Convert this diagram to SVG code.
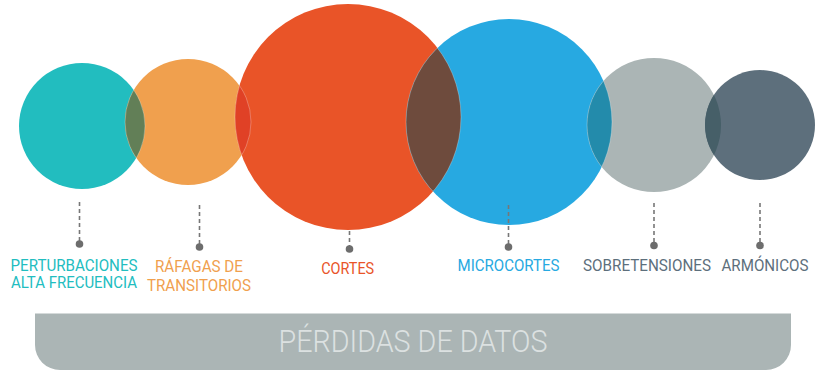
<svg xmlns="http://www.w3.org/2000/svg" width="821" height="371" viewBox="0 0 821 371">
<style>
.lbl{font-family:Roboto,"Liberation Sans",sans-serif;font-size:17px;text-anchor:middle}
.dash{stroke:#777;stroke-width:1.6;stroke-dasharray:4 3;fill:none}
.dot{fill:#6d6d6d}
.edge{fill:none;stroke:#ffffff;stroke-opacity:0.35;stroke-width:0.8}
</style>
<defs>
<clipPath id="cA"><circle cx="82" cy="126" r="63"/></clipPath>
<clipPath id="cB"><circle cx="188" cy="122" r="63"/></clipPath>
<clipPath id="cC"><circle cx="348" cy="117" r="113"/></clipPath>
<clipPath id="cD"><circle cx="509" cy="122" r="103"/></clipPath>
<clipPath id="cE"><circle cx="654" cy="125" r="67"/></clipPath>
</defs>
<g id="node-perturbaciones">
<circle cx="82" cy="126" r="63" fill="#22BDBF"/>
</g>
<g id="node-rafagas">
<circle cx="188" cy="122" r="63" fill="#F0A04E"/>
</g>
<g id="node-cortes">
<circle cx="348" cy="117" r="113" fill="#E95428"/>
</g>
<g id="node-microcortes">
<circle cx="509" cy="122" r="103" fill="#27A9E1"/>
</g>
<g id="node-sobretensiones">
<circle cx="654" cy="125" r="67" fill="#ABB5B5"/>
</g>
<g id="node-armonicos">
<circle cx="760" cy="125" r="55" fill="#5D6F7C"/>
</g>
<g id="overlaps">
<circle cx="188" cy="122" r="63" fill="#627F57" clip-path="url(#cA)"/>
<circle cx="348" cy="117" r="113" fill="#E04126" clip-path="url(#cB)"/>
<circle cx="509" cy="122" r="103" fill="#6E4B3D" clip-path="url(#cC)"/>
<circle cx="654" cy="125" r="67" fill="#238BAB" clip-path="url(#cD)"/>
<circle cx="760" cy="125" r="55" fill="#465F68" clip-path="url(#cE)"/>
<circle class="edge" cx="82" cy="126" r="63" clip-path="url(#cB)"/>
<circle class="edge" cx="188" cy="122" r="63" clip-path="url(#cA)"/>
<circle class="edge" cx="188" cy="122" r="63" clip-path="url(#cC)"/>
<circle class="edge" cx="348" cy="117" r="113" clip-path="url(#cB)"/>
<circle class="edge" cx="348" cy="117" r="113" clip-path="url(#cD)"/>
<circle class="edge" cx="509" cy="122" r="103" clip-path="url(#cC)"/>
<circle class="edge" cx="509" cy="122" r="103" clip-path="url(#cE)"/>
<circle class="edge" cx="654" cy="125" r="67" clip-path="url(#cD)"/>
</g>
<g id="connectors">
<line class="dash" x1="79.5" y1="202" x2="79.5" y2="242"/>
<circle class="dot" cx="79.5" cy="244" r="3.8"/>
<line class="dash" x1="199.5" y1="205" x2="199.5" y2="245"/>
<circle class="dot" cx="199.5" cy="247" r="3.8"/>
<line class="dash" x1="349.5" y1="231" x2="349.5" y2="247"/>
<circle class="dot" cx="349.5" cy="249" r="3.8"/>
<line class="dash" x1="508.5" y1="205" x2="508.5" y2="245"/>
<circle class="dot" cx="508.5" cy="247" r="3.8"/>
<line class="dash" x1="654" y1="203" x2="654" y2="244"/>
<circle class="dot" cx="654" cy="245.5" r="3.8"/>
<line class="dash" x1="760" y1="203" x2="760" y2="244"/>
<circle class="dot" cx="760" cy="245.5" r="3.8"/>
</g>
<g id="labels">
<text class="lbl" fill="#22BDBF" x="74" y="271" textLength="127" lengthAdjust="spacingAndGlyphs">PERTURBACIONES</text>
<text class="lbl" fill="#22BDBF" x="74" y="287.5" textLength="126" lengthAdjust="spacingAndGlyphs">ALTA FRECUENCIA</text>
<text class="lbl" fill="#F0A04E" x="199" y="271.5" textLength="88" lengthAdjust="spacingAndGlyphs">RÁFAGAS DE</text>
<text class="lbl" fill="#F0A04E" x="199" y="290.5" textLength="104" lengthAdjust="spacingAndGlyphs">TRANSITORIOS</text>
<text class="lbl" fill="#E95428" x="347.7" y="273.5" textLength="53" lengthAdjust="spacingAndGlyphs">CORTES</text>
<text class="lbl" fill="#27A9E1" x="508.5" y="271" textLength="102" lengthAdjust="spacingAndGlyphs">MICROCORTES</text>
<text class="lbl" fill="#5D6F7C" x="647" y="271" textLength="128" lengthAdjust="spacingAndGlyphs">SOBRETENSIONES</text>
<text class="lbl" fill="#5D6F7C" x="765" y="271" textLength="87" lengthAdjust="spacingAndGlyphs">ARMÓNICOS</text>
</g>
<g id="footer">
<path d="M35 313.5 H791 V345 A25 25 0 0 1 766 370 H60 A25 25 0 0 1 35 345 Z" fill="#ABB5B5"/>
<text x="413" y="351.5" font-family="Roboto,'Liberation Sans',sans-serif" font-weight="300" font-size="32" fill="#DCE1E1" text-anchor="middle" textLength="269" lengthAdjust="spacingAndGlyphs">PÉRDIDAS DE DATOS</text>
</g>
</svg>
